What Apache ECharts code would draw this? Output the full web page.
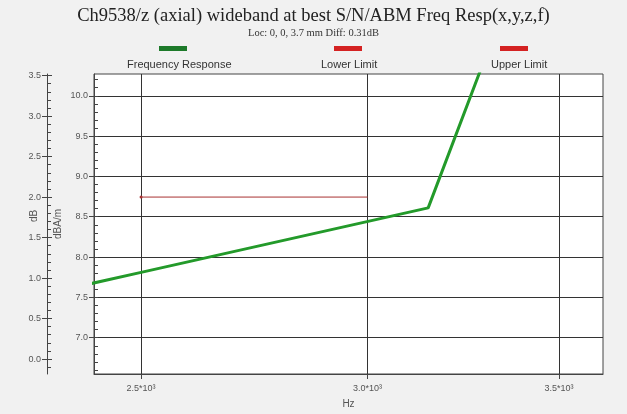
<!DOCTYPE html>
<html>
<head>
<meta charset="utf-8">
<script src="https://cdn.jsdelivr.net/npm/echarts@6/dist/echarts.min.js"></script>
<style>
  html, body { margin: 0; padding: 0; background: #f1f1f1; }
  #chart { width: 627px; height: 414px; }
</style>
</head>
<body>
<div id="chart"></div>
<script>
// frequency response (dBA/m axis), 1/3 octave points
const freqHz = [2000, 2500, 3150, 4000]
const responseDbaM = [7.04, 7.81, 8.61, 18.3]

// limits (dB axis)
const lowerLimitHz = [2500, 3000]
const lowerLimitDb = [2.0, 2.0]
const upperLimitHz = []
const upperLimitDb = []

// axis ticks
const xTicks = [2500, 3000, 3500]
const dbTicks = [0, 0.5, 1.0, 1.5, 2.0, 2.5, 3.0, 3.5]
const dbaTicks = [7.0, 7.5, 8.0, 8.5, 9.0, 9.5, 10.0]

const X_MIN = 2407, X_MAX = 3626
const DB_MIN = -0.185, DB_MAX = 3.52
const DBA_MIN = 6.55, DBA_MAX = 10.27

const minorSteps = (lo, hi, step) => {
  const out = []
  for (let v = Math.ceil(lo / step) * step; v <= hi + 1e-9; v += step) {
    out.push(Math.round(v * 100) / 100)
  }
  return out
}

const labelColor = '#555'
const axisColor = '#444'
const fontSans = 'Liberation Sans, Arial, sans-serif'
const fontSerif = 'Liberation Serif, Times New Roman, serif'

const chart = echarts.init(document.getElementById('chart'))

const tickAxis = (extra) => ({
  type: 'value',
  position: 'left',
  axisLine: { show: false },
  axisLabel: { show: false },
  splitLine: { show: false },
  ...extra,
})

const iconLegend = (name, left, color) => ({
  left, top: 41,
  data: [{ name, itemStyle: { color } }],
  icon: 'rect', itemWidth: 28, itemHeight: 5,
  formatter: () => '',
  textStyle: { fontSize: 1 },
})
const textLegend = (name, left) => ({
  left, top: 54,
  data: [name],
  itemWidth: 0, itemHeight: 0,
  textStyle: { fontSize: 11, color: '#333', fontFamily: fontSans },
})

chart.setOption({
  animation: false,
  backgroundColor: '#f1f1f1',
  title: {
    text: 'Ch9538/z (axial) wideband at best S/N/ABM Freq Resp(x,y,z,f)',
    subtext: 'Loc: 0, 0, 3.7 mm Diff: 0.31dB',
    left: 'center',
    top: 2,
    itemGap: 2,
    textStyle: { fontFamily: fontSerif, fontSize: 18.5, fontWeight: 'normal', color: '#222' },
    subtextStyle: { fontFamily: fontSerif, fontSize: 10.5, color: '#333' },
  },
  legend: [
    iconLegend('Frequency Response', 154, '#1d7a2a'),
    textLegend('Frequency Response', 116),
    iconLegend('Lower Limit', 329, '#d42222'),
    textLegend('Lower Limit', 310),
    iconLegend('Upper Limit', 495, '#d42222'),
    textLegend('Upper Limit', 480),
  ],
  grid: {
    left: 94, top: 74, right: 24, bottom: 40,
    show: true, backgroundColor: '#ffffff', borderColor: axisColor, borderWidth: 1,
  },
  xAxis: {
    type: 'log',
    min: X_MIN, max: X_MAX,
    name: 'Hz', nameLocation: 'middle', nameGap: 25,
    nameTextStyle: { fontSize: 10, color: labelColor, fontFamily: fontSans },
    axisLine: { onZero: false, lineStyle: { color: axisColor } },
    axisTick: { customValues: xTicks, length: 5, lineStyle: { color: axisColor } },
    axisLabel: {
      customValues: xTicks,
      fontSize: 9, color: labelColor, fontFamily: fontSans, margin: 10,
      formatter: (v) => (v / 1000).toFixed(1) + '*10³',
    },
    splitLine: { show: true, lineStyle: { color: '#333', width: 1 } },
    minorTick: { show: false },
  },
  yAxis: [
    {
      // dB axis (outer)
      type: 'value', position: 'left', offset: 47,
      min: DB_MIN, max: DB_MAX,
      name: 'dB', nameLocation: 'middle', nameGap: 8, nameRotate: 90, nameMoveOverlap: false,
      nameTextStyle: { fontSize: 10, color: labelColor, fontFamily: fontSans, padding: [0, 0, 0, 16] },
      axisLine: { show: true, onZero: false, lineStyle: { color: axisColor } },
      axisTick: { customValues: dbTicks, length: 5, lineStyle: { color: axisColor } },
      axisLabel: {
        customValues: dbTicks, fontSize: 9, color: labelColor, fontFamily: fontSans, margin: 6,
        formatter: (v) => v.toFixed(1),
      },
      splitLine: { show: false },
    },
    tickAxis({ offset: 47, min: DB_MIN, max: DB_MAX,
      axisTick: { inside: true, customValues: dbTicks, length: 5, lineStyle: { color: axisColor } } }),
    tickAxis({ offset: 47, min: DB_MIN, max: DB_MAX,
      axisTick: { inside: true, customValues: minorSteps(DB_MIN, DB_MAX, 0.1), length: 4, lineStyle: { color: axisColor } } }),
    {
      // dBA/m axis (inner)
      type: 'value', position: 'left', offset: 0,
      min: DBA_MIN, max: DBA_MAX,
      name: 'dBA/m', nameLocation: 'middle', nameGap: 31, nameRotate: 90, nameMoveOverlap: false,
      nameTextStyle: { fontSize: 10, color: labelColor, fontFamily: fontSans },
      axisLine: { show: true, onZero: false, lineStyle: { color: axisColor } },
      axisTick: { customValues: dbaTicks, length: 5, lineStyle: { color: axisColor } },
      axisLabel: {
        customValues: dbaTicks, fontSize: 9, color: labelColor, fontFamily: fontSans, margin: 6,
        formatter: (v) => v.toFixed(1),
      },
      splitLine: { show: true, lineStyle: { color: '#333', width: 1 } },
    },
    tickAxis({ offset: 0, min: DBA_MIN, max: DBA_MAX,
      axisTick: { inside: true, customValues: minorSteps(DBA_MIN, DBA_MAX, 0.1), length: 4, lineStyle: { color: axisColor } } }),
  ],
  series: [
    {
      name: 'Frequency Response',
      type: 'line',
      yAxisIndex: 3,
      symbol: 'none',
      color: '#1d7a2a',
      lineStyle: { width: 3, color: '#239a2a' },
      data: freqHz.map((f, i) => [f, responseDbaM[i]]),
    },
    {
      name: 'Lower Limit',
      type: 'line',
      yAxisIndex: 0,
      symbol: 'none',
      color: '#d42222',
      lineStyle: { width: 1, color: '#a83232' },
      data: lowerLimitHz.map((f, i) =>
        i === 0
          ? { value: [f, lowerLimitDb[i]], symbol: 'circle', symbolSize: 3, itemStyle: { color: '#a83232' } }
          : [f, lowerLimitDb[i]]),
    },
    {
      name: 'Upper Limit',
      type: 'line',
      yAxisIndex: 0,
      symbol: 'none',
      color: '#d42222',
      lineStyle: { width: 1, color: '#a83232' },
      data: upperLimitHz.map((f, i) => [f, upperLimitDb[i]]),
    },
  ],
})
</script>
</body>
</html>
